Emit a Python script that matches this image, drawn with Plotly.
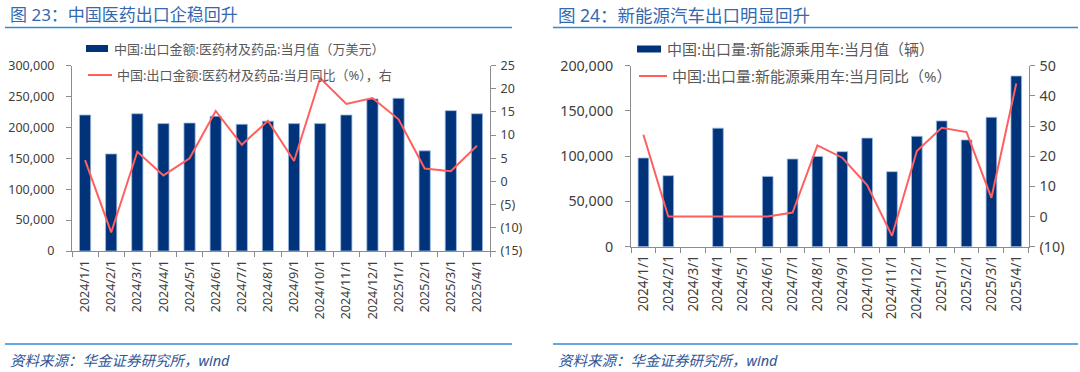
import plotly.graph_objects as go

# ---------------- data ----------------
months = ["2024/1/1", "2024/2/1", "2024/3/1", "2024/4/1", "2024/5/1", "2024/6/1",
          "2024/7/1", "2024/8/1", "2024/9/1", "2024/10/1", "2024/11/1", "2024/12/1",
          "2025/1/1", "2025/2/1", "2025/3/1", "2025/4/1"]

pharma_value = [220000, 157000, 222000, 206000, 207000, 218000, 205000, 210000,
                206000, 206000, 220000, 246000, 247000, 162000, 227000, 222000]
pharma_yoy = [4.6, -11.0, 6.4, 1.3, 5.0, 15.2, 7.9, 13.1,
              4.4, 22.3, 16.7, 18.0, 13.4, 2.8, 2.2, 7.7]

nev_value = [98000, 78500, None, 131000, None, 77700, 96900, 99800,
             105000, 120000, 82900, 122000, 139000, 118000, 143000, 188600]
nev_yoy = [27.1, 0.0, 0.0, 0.0, 0.0, 0.0, 1.3, 23.6,
           19.5, 10.4, -6.4, 21.7, 29.4, 28.0, 6.2, 44.1]

left_y_ticks = [0, 50000, 100000, 150000, 200000, 250000, 300000]
left_y_labels = ["0", "50,000", "100,000", "150,000", "200,000", "250,000", "300,000"]
left_y2_ticks = [-15, -10, -5, 0, 5, 10, 15, 20, 25]
left_y2_labels = ["(15)", "(10)", "(5)", "0", "5", "10", "15", "20", "25"]
right_y_ticks = [0, 50000, 100000, 150000, 200000]
right_y_labels = ["0", "50,000", "100,000", "150,000", "200,000"]
right_y2_ticks = [-10, 0, 10, 20, 30, 40, 50]
right_y2_labels = ["(10)", "0", "10", "20", "30", "40", "50"]

title_left = "图 23：中国医药出口企稳回升"
title_right = "图 24：新能源汽车出口明显回升"
leg_left_bar = "中国:出口金额:医药材及药品:当月值（万美元）"
leg_left_line = "中国:出口金额:医药材及药品:当月同比（%），右"
leg_right_bar = "中国:出口量:新能源乘用车:当月值（辆）"
leg_right_line = "中国:出口量:新能源乘用车:当月同比（%）"
source_text = "资料来源：华金证券研究所，wind"

# ---------------- styles ----------------
W, H = 1080, 372
FONT = "Noto Sans, Noto Sans CJK SC, sans-serif"
BAR_C = "#00337A"
BAR_EDGE = "#9DBCE3"
LINE_C = "#FF5F5F"
AXIS_C = "#8C8C8C"
TICK_C = "#404040"
TITLE_C = "#3468B0"
RULE_C = "#2E8BDB"
SRC_C = "#2F5597"


def px_x(x):
    return x / W


def px_y(y):
    return 1 - y / H


fig = go.Figure()

fig.add_trace(go.Bar(x=months, y=pharma_value, marker=dict(color=BAR_C, line=dict(color=BAR_EDGE, width=0.8)),
                     xaxis="x", yaxis="y", showlegend=False))
fig.add_trace(go.Scatter(x=months, y=pharma_yoy, mode="lines", line=dict(color=LINE_C, width=2),
                         xaxis="x", yaxis="y2", showlegend=False))
fig.add_trace(go.Bar(x=months, y=nev_value, marker=dict(color=BAR_C, line=dict(color=BAR_EDGE, width=0.8)),
                     xaxis="x2", yaxis="y3", showlegend=False))
fig.add_trace(go.Scatter(x=months, y=nev_yoy, mode="lines", line=dict(color=LINE_C, width=2),
                         xaxis="x2", yaxis="y4", showlegend=False))


def tf(size):
    return dict(family=FONT, size=size, color=TICK_C)


xcommon = dict(type="category", showline=True, linecolor=AXIS_C, linewidth=1, ticks="outside",
               tickson="boundaries", ticklen=5, tickcolor=AXIS_C, tickangle=-90,
               showgrid=False, zeroline=False, fixedrange=True, automargin=False)
ycommon = dict(showline=True, linecolor=AXIS_C, linewidth=1, ticks="outside", ticklen=5,
               tickcolor=AXIS_C, showgrid=False, zeroline=False, tickmode="array",
               automargin=False)

L_dom_x = [px_x(72), px_x(490)]
L_dom_y = [px_y(251), px_y(65.5)]
R_dom_x = [px_x(631), px_x(1028.7)]
R_dom_y = [px_y(246.7), px_y(65.7)]

fig.update_layout(
    width=W, height=H, margin=dict(l=0, r=0, t=0, b=0, autoexpand=False),
    paper_bgcolor="white", plot_bgcolor="white",
    font=dict(family=FONT, color=TICK_C),
    bargap=0.57,
    barmode="group",
    showlegend=False,
    xaxis=dict(domain=L_dom_x, anchor="y", tickfont=tf(12.5), ticklabelstandoff=3, **xcommon),
    yaxis=dict(domain=L_dom_y, anchor="x", range=[0, 300000], tickvals=left_y_ticks,
               ticktext=left_y_labels, tickfont=tf(12.5), ticklabelstandoff=9, **ycommon),
    yaxis2=dict(overlaying="y", side="right", anchor="x", range=[-15, 25], tickvals=left_y2_ticks,
                ticktext=left_y2_labels, tickfont=tf(12.5), ticklabelstandoff=2, **ycommon),
    xaxis2=dict(domain=R_dom_x, anchor="y3", tickfont=tf(13.5), ticklabelstandoff=2, **xcommon),
    yaxis3=dict(domain=R_dom_y, anchor="x2", range=[0, 200000], tickvals=right_y_ticks,
                ticktext=right_y_labels, tickfont=tf(14.3), ticklabelstandoff=9, **ycommon),
    yaxis4=dict(overlaying="y3", side="right", anchor="x2", range=[-10, 50], tickvals=right_y2_ticks,
                ticktext=right_y2_labels, tickfont=tf(14.3), ticklabelstandoff=2, **ycommon),
)

shapes = []
annotations = []

# titles & rules
for x0, x1, title, tsize, ssize in [(5, 512, title_left, 17, 14.5), (553, 1078, title_right, 17.5, 14.5)]:
    annotations.append(dict(x=px_x(x0 + 3), y=px_y(15), xref="paper", yref="paper", text=title,
                            showarrow=False, xanchor="left", yanchor="middle",
                            font=dict(family=FONT, size=tsize, color=TITLE_C)))
    shapes.append(dict(type="line", xref="paper", yref="paper", x0=px_x(x0), x1=px_x(x1),
                       y0=px_y(27.5), y1=px_y(27.5), line=dict(color=RULE_C, width=1.6)))
    shapes.append(dict(type="line", xref="paper", yref="paper", x0=px_x(x0), x1=px_x(x1),
                       y0=px_y(344), y1=px_y(344), line=dict(color=RULE_C, width=1.6)))
    annotations.append(dict(x=px_x(x0 + 3), y=px_y(360), xref="paper", yref="paper",
                            text="<i>" + source_text + "</i>", showarrow=False, xanchor="left",
                            yanchor="middle", font=dict(family=FONT, size=ssize, color=SRC_C)))

# legends
for (rx0, rx1, ry, btxt_x, btxt), (lx0, lx1, ly, ltxt_x, ltxt), fsize in [
    ((86, 108, 48.5, 112, leg_left_bar), (88, 112, 75, 115, leg_left_line), 13),
    ((637, 661, 49, 665, leg_right_bar), (639, 667, 76, 670, leg_right_line), 15),
]:
    leg_font = dict(family=FONT, size=fsize, color="#595959")
    shapes.append(dict(type="rect", xref="paper", yref="paper", x0=px_x(rx0), x1=px_x(rx1),
                       y0=px_y(ry - 3.5), y1=px_y(ry + 3.5), fillcolor=BAR_C, line=dict(width=0)))
    annotations.append(dict(x=px_x(btxt_x), y=px_y(ry), xref="paper", yref="paper", text=btxt,
                            showarrow=False, xanchor="left", yanchor="middle", font=leg_font))
    shapes.append(dict(type="line", xref="paper", yref="paper", x0=px_x(lx0), x1=px_x(lx1),
                       y0=px_y(ly), y1=px_y(ly), line=dict(color=LINE_C, width=2)))
    annotations.append(dict(x=px_x(ltxt_x), y=px_y(ly), xref="paper", yref="paper", text=ltxt,
                            showarrow=False, xanchor="left", yanchor="middle", font=leg_font))

fig.update_layout(shapes=shapes, annotations=annotations)

fig.write_html("out.html", config={"displayModeBar": False},
               post_script="document.body.style.margin='0';document.body.style.overflow='hidden';")
